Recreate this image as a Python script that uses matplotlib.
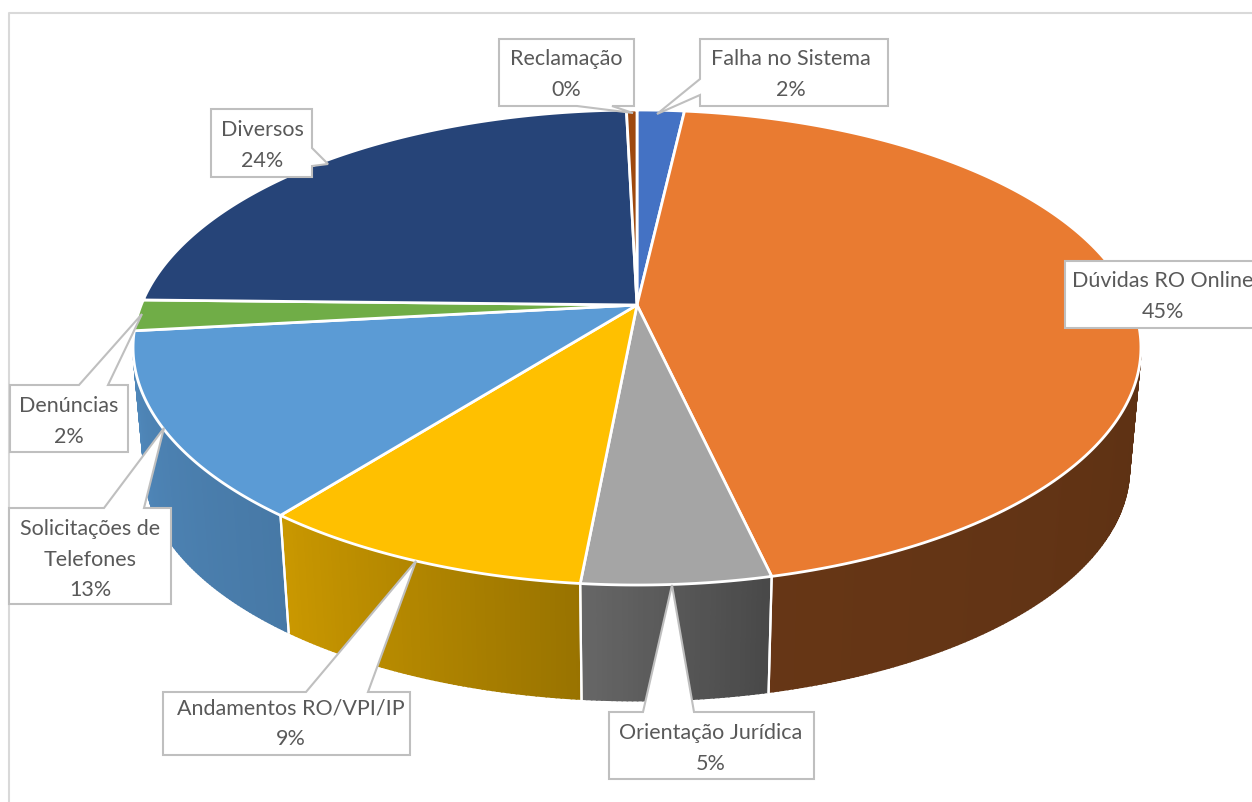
import numpy as np
import matplotlib.pyplot as plt
from matplotlib.patches import Polygon

plt.rcParams['font.family'] = ['Lato', 'DejaVu Sans']

# данные
categories = ['Falha no Sistema', 'Dúvidas RO Online', 'Orientação Jurídica', 'Andamentos RO/VPI/IP',
              'Solicitações de\nTelefones', 'Denúncias', 'Diversos', 'Reclamação']
values = [1.8, 44.6, 5.1, 9.1, 12.65, 2.1, 24.25, 0.4]
colors = ['#4472c4', '#e97b31', '#a5a5a5', '#ffc000', '#5b9bd5', '#70ad47', '#264478', '#9e480e']

# затемнение боковой стенки (начало, конец)
wall_shade = [(0.4, 0.4), (0.40, 0.44), (0.44, 0.62), (0.60, 0.79), (0.78, 0.87), (0.8, 0.8), (0.8, 0.8), (0.5, 0.5)]

# рамка подписи: x0, y0, x1, y1, точки выноски, центр текста
boxes = [
    (700, 39, 888, 106, [(700, 95), (657, 114), (700, 79)], (791, 74.5)),
    (1065, 261, 1270, 328, [], (1163, 296.5)),
    (609, 712, 814, 779, [(694, 712), (672, 585), (643, 712)], (711, 748.5)),
    (163, 692, 410, 755, [(368, 692), (416, 561), (306, 692)], (291, 723.5)),
    (9, 508, 171, 604, [(144, 508), (164, 428), (104, 508)], (90, 559.5)),
    (10, 385, 128, 452, [(108, 385), (142, 314), (79, 385)], (69, 421.5)),
    (211, 109, 312, 177, [(312, 166), (328, 164), (312, 148)], (262, 145.5)),
    (499, 39, 634, 106, [(612, 106), (633, 113), (577, 106)], (566, 74.5)),
]

# геометрия диска в перспективе
cx, cy = 637, 305
a, b, k = 495.8, 229.9, 0.179
depth, shrink = 122, 0.977
wall_from, wall_to = 100, 258


def top_xy(t):
    x = np.sin(np.radians(t))
    y = np.cos(np.radians(t))
    return cx + a * x / (1 + k * y), cy - b * y / (1 + k * y)


def bottom_xy(t):
    x, y = top_xy(t)
    return cx + (x - cx) * shrink, cy + (y - cy) * shrink + depth


def shade(color, f):
    rgb = np.array(plt.matplotlib.colors.to_rgb(color))
    return tuple(rgb * f)


fig = plt.figure(figsize=(12.52, 8.02), dpi=100)
ax = fig.add_axes([0, 0, 1, 1])
ax.set_xlim(0, 1252)
ax.set_ylim(802, 0)
ax.axis('off')

# внешняя рамка
ax.plot([8.5, 8.5, 1252], [802, 12.5, 12.5], color='#d9d9d9', lw=1.5, zorder=1)

edges = np.cumsum([0] + values) / sum(values) * 360

# боковые стенки
for i, color in enumerate(colors):
    t0 = max(edges[i], wall_from)
    t1 = min(edges[i + 1], wall_to)
    if t1 <= t0:
        continue
    ts = np.linspace(t0, t1, int((t1 - t0) * 2) + 2)
    for j in range(len(ts) - 1):
        f = wall_shade[i][0] + (wall_shade[i][1] - wall_shade[i][0]) * j / (len(ts) - 2)
        x1, y1 = top_xy(ts[j])
        x2, y2 = top_xy(ts[j + 1])
        x3, y3 = bottom_xy(ts[j + 1])
        x4, y4 = bottom_xy(ts[j])
        c = shade(color, f)
        ax.add_patch(Polygon([(x1, y1), (x2, y2), (x3, y3), (x4, y4)], closed=True,
                             facecolor=c, edgecolor=c, lw=1.2, zorder=2))
    for t in (t0, t1):
        if wall_from < t < wall_to:
            x1, y1 = top_xy(t)
            x2, y2 = bottom_xy(t)
            ax.plot([x1, x2], [y1, y2], color='white', lw=1.6, zorder=3)

# верхняя поверхность
for i, color in enumerate(colors):
    ts = np.linspace(edges[i], edges[i + 1], 200)
    xs, ys = top_xy(ts)
    pts = [(cx, cy)] + list(zip(xs, ys))
    ax.add_patch(Polygon(pts, closed=True, facecolor=color, edgecolor='white', lw=2,
                         joinstyle='round', zorder=4))

# подписи
for name, v, (x0, y0, x1, y1, tip, center) in zip(categories, values, boxes):
    # выноска вставляется в ту сторону рамки, где лежат её точки
    if tip and tip[0][0] == x0:
        pts = [(x0, y0), (x1, y0), (x1, y1), (x0, y1)] + tip
    elif tip and tip[0][0] == x1:
        pts = [(x0, y0), (x1, y0)] + tip[::-1] + [(x1, y1), (x0, y1)]
    elif tip and tip[0][1] == y0:
        pts = [(x0, y0)] + tip[::-1] + [(x1, y0), (x1, y1), (x0, y1)]
    elif tip:
        pts = [(x0, y0), (x1, y0), (x1, y1)] + tip + [(x0, y1)]
    else:
        pts = [(x0, y0), (x1, y0), (x1, y1), (x0, y1)]
    ax.add_patch(Polygon(pts, closed=True, facecolor='white', edgecolor='#bfbfbf', lw=1.5, zorder=5))
    ax.text(center[0], center[1], f'{name}\n{v:.0f}%', ha='center', va='center', fontsize=15.5,
            color='#595959', linespacing=1.65, zorder=6)

plt.savefig('out.png', dpi=100)
